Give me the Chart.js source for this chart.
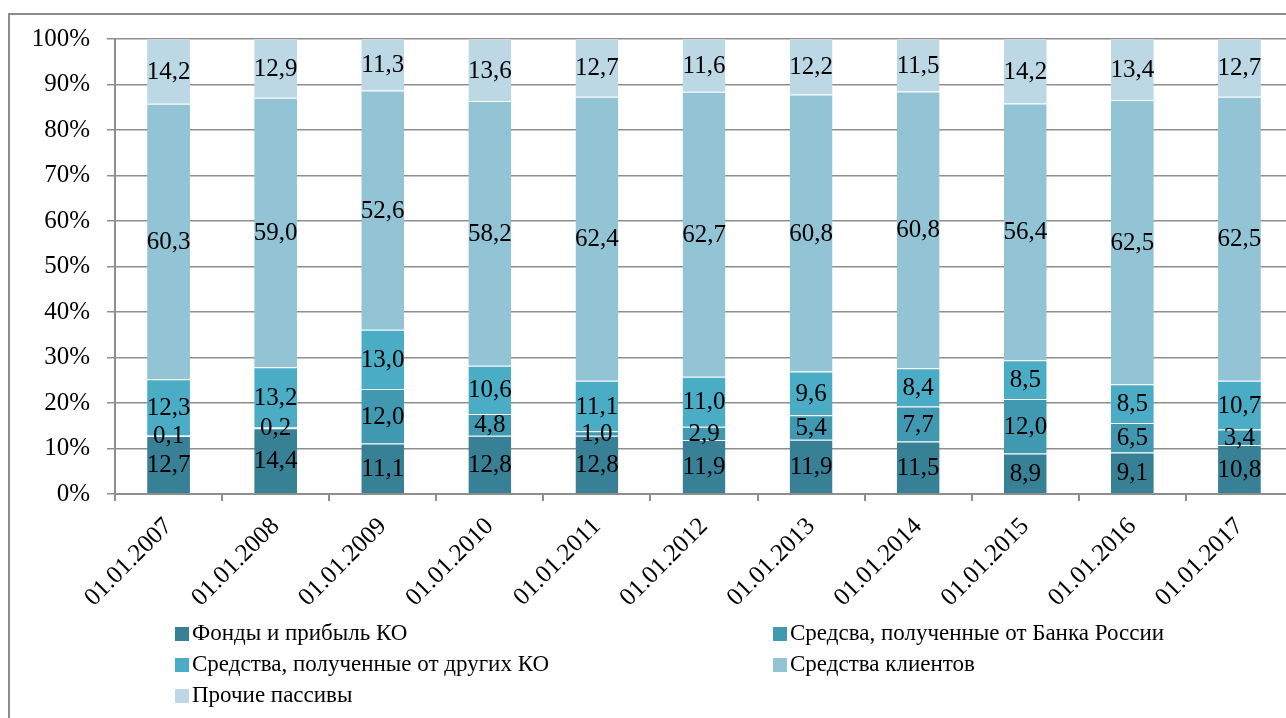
<!DOCTYPE html>
<html>
<head>
<meta charset="utf-8">
<script src="https://cdn.jsdelivr.net/npm/chart.js@4.4.0/dist/chart.umd.min.js"></script>
<style>
  html, body { margin: 0; padding: 0; background: #fff; overflow: hidden; }
  #wrap { position: relative; width: 1286px; height: 718px; overflow: hidden; }
  #frame {
    position: absolute; left: 8px; top: 13px; width: 1400px; height: 800px;
    border-left: 2px solid #8c8c8c; border-top: 2px solid #8c8c8c;
  }
  #box { position: absolute; left: 0; top: 0; width: 1320px; height: 718px; }
  #legend {
    position: absolute; left: 175px; top: 617px; width: 1100px;
    font-family: "Liberation Serif", "Times New Roman", serif; font-size: 23px; color: #000;
  }
  .item { position: absolute; white-space: nowrap; height: 31px; line-height: 31px; }
  .item span { display: inline-block; width: 14px; height: 14px; margin-right: 3px; vertical-align: -1px; }
</style>
</head>
<body>
<div id="wrap">
  <div id="frame"></div>
  <div id="box"><canvas id="myChart" width="1320" height="718"></canvas></div>
  <div id="legend"></div>
</div>
<script>
const labels = [
  "01.01.2007", "01.01.2008", "01.01.2009", "01.01.2010", "01.01.2011", "01.01.2012",
  "01.01.2013", "01.01.2014", "01.01.2015", "01.01.2016", "01.01.2017",
];

// структура пассивов, %
const fondy = [12.7, 14.4, 11.1, 12.8, 12.8, 11.9, 11.9, 11.5, 8.9, 9.1, 10.8];
const bankRossii = [0.1, 0.2, 12.0, 4.8, 1.0, 2.9, 5.4, 7.7, 12.0, 6.5, 3.4];
const drugieKO = [12.3, 13.2, 13.0, 10.6, 11.1, 11.0, 9.6, 8.4, 8.5, 8.5, 10.7];
const klienty = [60.3, 59.0, 52.6, 58.2, 62.4, 62.7, 60.8, 60.8, 56.4, 62.5, 62.5];
const prochie = [14.2, 12.9, 11.3, 13.6, 12.7, 11.6, 12.2, 11.5, 14.2, 13.4, 12.7];

const yTicks = [0, 10, 20, 30, 40, 50, 60, 70, 80, 90, 100];

const serif = "'Liberation Serif', 'Times New Roman', serif";

// сумма по каждой дате, чтобы столбик занимал ровно 100%
const totals = labels.map((_, j) =>
  fondy[j] + bankRossii[j] + drugieKO[j] + klienty[j] + prochie[j]
);

function seria(label, values, color) {
  return {
    label: label,
    values: values,
    data: values.map((v, j) => (v / totals[j]) * 100),
    backgroundColor: color,
    borderColor: "rgba(255, 255, 255, 0.3)",
    borderWidth: { top: 1 },
    borderSkipped: "start",
    barPercentage: 0.8,
    categoryPercentage: 0.5,
  };
}

const datasets = [
  seria("Фонды и прибыль КО", fondy, "rgb(55, 128, 150)"),
  seria("Средсва, полученные от Банка России", bankRossii, "rgb(65, 152, 177)"),
  seria("Средства, полученные от других КО", drugieKO, "rgb(75, 172, 198)"),
  seria("Средства клиентов", klienty, "rgb(147, 196, 214)"),
  seria("Прочие пассивы", prochie, "rgb(187, 216, 228)"),
];

// подписи значений по центру каждого сегмента
const valueLabels = {
  id: "valueLabels",
  afterDatasetsDraw(chart) {
    const ctx = chart.ctx;
    ctx.save();
    ctx.font = "25px " + serif;
    ctx.fillStyle = "#000";
    ctx.textAlign = "center";
    ctx.textBaseline = "middle";
    chart.data.datasets.forEach((ds, i) => {
      const meta = chart.getDatasetMeta(i);
      meta.data.forEach((bar, j) => {
        const txt = ds.values[j].toFixed(1).replace(".", ",");
        ctx.fillText(txt, bar.x, (bar.y + bar.base) / 2 + 1);
      });
    });
    ctx.restore();
  },
};

const config = {
  type: "bar",
  data: { labels: labels, datasets: datasets },
  plugins: [valueLabels],
  options: {
    responsive: false,
    animation: false,
    layout: { padding: { top: 39, right: 27, left: 0, bottom: 0 } },
    plugins: {
      legend: { display: false },
      tooltip: { enabled: false },
    },
    scales: {
      x: {
        stacked: true,
        afterFit: (scale) => { scale.height = 224; },
        grid: {
          offset: true,
          drawOnChartArea: false,
          color: "#8e8e8e",
          lineWidth: 2,
          tickLength: 7,
        },
        border: { color: "#8e8e8e", width: 2 },
        ticks: {
          font: { family: serif, size: 25 },
          color: "#000",
          minRotation: 45,
          maxRotation: 45,
          padding: 11,
          autoSkip: false,
        },
      },
      y: {
        stacked: true,
        min: 0,
        max: 100,
        afterFit: (scale) => { scale.width = 115; },
        afterBuildTicks: (scale) => { scale.ticks = yTicks.map((v) => ({ value: v })); },
        grid: { color: "#8e8e8e", lineWidth: 1.5, tickLength: 8 },
        border: { color: "#8e8e8e", width: 2 },
        ticks: {
          font: { family: serif, size: 25 },
          color: "#000",
          padding: 17,
          callback: (v) => v + "%",
        },
      },
    },
  },
};

const myChart = new Chart(document.getElementById("myChart"), config);

// легенда в две колонки
const legend = document.getElementById("legend");
datasets.forEach((ds, i) => {
  const item = document.createElement("div");
  item.className = "item";
  item.style.left = (i % 2) * 598 + "px";
  item.style.top = Math.floor(i / 2) * 31 + "px";
  const sq = document.createElement("span");
  sq.style.background = ds.backgroundColor;
  item.appendChild(sq);
  item.appendChild(document.createTextNode(ds.label));
  legend.appendChild(item);
});
</script>
</body>
</html>
